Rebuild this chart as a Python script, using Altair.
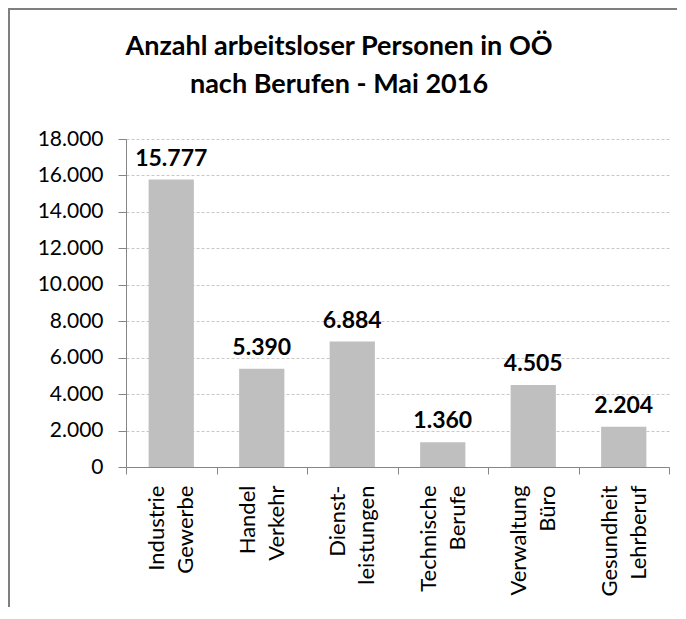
import altair as alt
import pandas as pd

categories = ["Industrie\nGewerbe", "Handel\nVerkehr", "Dienst-\nleistungen",
              "Technische\nBerufe", "Verwaltung\nBüro", "Gesundheit\nLehrberuf"]
values = [15777, 5390, 6884, 1360, 4505, 2204]
title_lines = ["Anzahl arbeitsloser Personen in OÖ", "nach Berufen - Mai 2016"]
y_ticks = [0, 2000, 4000, 6000, 8000, 10000, 12000, 14000, 16000, 18000]

labels = [f"{v:,}".replace(",", ".") for v in values]
df = pd.DataFrame({"cat": categories, "val": values, "lab": labels})

FONT = "Lato"
W, H = 543, 328
AXIS_GRAY = "#868686"
LINE_H = 29

x = alt.X(
    "cat:N", sort=categories, title=None,
    scale=alt.Scale(paddingInner=0, paddingOuter=0),
    axis=alt.Axis(
        labelExpr="split(datum.label, '\\n')",
        labelAngle=270, labelAlign="right", labelBaseline="middle",
        labelFont=FONT, labelFontSize=22, labelLineHeight=LINE_H, labelColor="#000000",
        labelPadding=11, labelOffset=-LINE_H / 2,
        tickBand="extent", tickSize=7, tickColor=AXIS_GRAY,
        domainColor=AXIS_GRAY, grid=False, labelOverlap=False,
    ),
)
y = alt.Y(
    "val:Q", title=None,
    scale=alt.Scale(domain=[0, 18000], nice=False),
    axis=alt.Axis(
        values=y_ticks,
        labelExpr="replace(format(datum.value, ','), ',', '.')",
        labelFont=FONT, labelFontSize=21, labelColor="#000000",
        labelPadding=15, tickSize=8, tickColor=AXIS_GRAY, domainColor=AXIS_GRAY,
        grid=True, gridDash=[3, 2], gridColor="#c8c8c8", labelOverlap=False,
    ),
)

base = alt.Chart(df)
bars = base.mark_bar(color="#bfbfbf", width={"band": 0.5}).encode(x=x, y=y)
bar_labels = base.mark_text(
    font=FONT, fontSize=23, fontWeight="bold", baseline="alphabetic",
    dy=-14, color="#000000"
).encode(x=x, y=y, text="lab:N")

one = alt.Data(values=[{}])
title = alt.Chart(one).mark_text(
    text=title_lines, font=FONT, fontSize=27, fontWeight="bold",
    lineHeight=38, baseline="middle", align="center", color="#000000"
).encode(x=alt.value(213), y=alt.value(-92))

frame_left = alt.Chart(one).mark_rule(color="#7f7f7f", strokeWidth=2).encode(
    x=alt.value(-117), y=alt.value(-131), y2=alt.value(H + 140)
)
frame_top = alt.Chart(one).mark_rule(color="#7f7f7f", strokeWidth=2).encode(
    x=alt.value(-118), x2=alt.value(W + 8), y=alt.value(-130)
)

chart = alt.layer(bars, bar_labels, title, frame_left, frame_top).properties(
    width=W, height=H,
    autosize=alt.AutoSizeParams(type="none"),
    padding={"left": 118, "top": 131, "right": 8, "bottom": 140},
).configure_view(stroke=None)

chart.save("out.html", embed_options={"renderer": "svg", "actions": False})
